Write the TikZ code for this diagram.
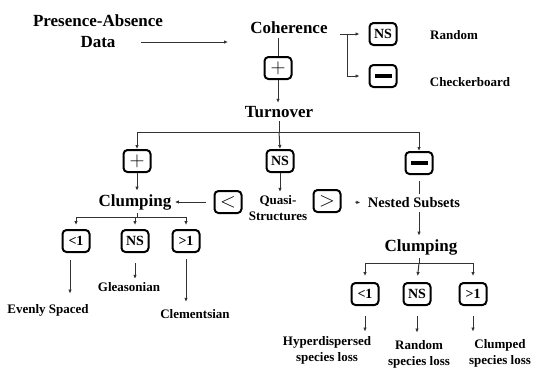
\documentclass[tikz,border=0pt]{standalone}
\usepackage{fontspec}
\setmainfont{Liberation Serif}
\usepackage{tikz}
\usetikzlibrary{arrows.meta,positioning,calc}
\definecolor{flLine}{HTML}{333333}
\tikzset{
    % boxes with a test result
    resbox/.style={draw=black, line width=2pt, rounded corners=4pt, minimum width=27pt, minimum height=22pt, inner sep=0pt, font=\fontsize{14}{14}\bfseries\selectfont},
    % text labels
    bigtxt/.style={font=\fontsize{17}{21}\bfseries\selectfont, align=center},
    midtxt/.style={font=\fontsize{14.5}{17}\bfseries\selectfont, align=center},
    smalltxt/.style={font=\fontsize{13}{16}\bfseries\selectfont, align=center},
    % connectors
    link/.style={line width=1pt, flLine},
    arrow/.style={-{Latex[length=4pt,width=3.5pt]}, line width=1pt, flLine}
}
\newcommand{\minusbar}{\rule{17pt}{3.5pt}}
\newcommand{\bigsym}[1]{{\fontsize{21}{21}\selectfont$#1$}}

\begin{document}
\begin{tikzpicture}[x=1pt,y=-1pt]
    \fill[white] (0,0) rectangle (537,368);
    \useasboundingbox (0,0) rectangle (537,368);

    % Coherence
    \node[bigtxt] (pres) at (98,21) {Presence-Absence};
    \node[bigtxt] (data) at (98,42) {Data};
    \node[bigtxt] (coh) at (289,28) {Coherence};
    \coordinate (cohin) at (228,42);
    \node[resbox] (nsA) at (383,34) {NS};
    \node[resbox] (minA) at (383,76) {\minusbar};
    \node[smalltxt] (rand) at (454,35) {Random};
    \node[smalltxt] (check) at (470,82) {Checkerboard};
    \node[resbox] (plusA) at (278,68) {\bigsym{+}};

    % Turnover
    \node[bigtxt] (turn) at (279,112) {Turnover};
    \coordinate (bar1) at (279,132);
    \node[resbox] (plusB) at (137,161) {\bigsym{+}};
    \node[resbox] (nsB) at (280,161) {NS};
    \node[resbox] (minB) at (419,163) {\minusbar};
    \node[smalltxt] (quasi) at (278,208) {Quasi-\\Structures};
    \node[resbox] (lt) at (228,202) {\bigsym{<}};
    \node[resbox] (gt) at (327,201) {\bigsym{>}};
    \node[bigtxt] (clumpL) at (135,202) {Clumping};
    \node[midtxt] (nested) at (414,203) {Nested Subsets};

    % Clumping (left)
    \coordinate (bar2) at (137,217);
    \node[resbox] (lt1L) at (76,241) {<1};
    \node[resbox] (nsL) at (135,241) {NS};
    \node[resbox] (gt1L) at (186,241) {>1};
    \node[smalltxt] (even) at (48,310) {Evenly Spaced};
    \node[smalltxt] (gleas) at (129,287) {Gleasonian};
    \node[smalltxt] (clem) at (195,314) {Clementsian};

    % Clumping (right)
    \node[bigtxt] (clumpR) at (421,247) {Clumping};
    \coordinate (bar3) at (419,263);
    \node[resbox] (lt1R) at (365,294) {<1};
    \node[resbox] (nsR) at (417,294) {NS};
    \node[resbox] (gt1R) at (473,294) {>1};
    \node[smalltxt] (hyper) at (327,350) {Hyperdispersed\\species loss};
    \node[smalltxt] (randR) at (419,354) {Random\\species loss};
    \node[smalltxt] (clmpd) at (500,353) {Clumped\\species loss};

    % Arrows
    \draw[arrow] ([xshift=22pt]data.east) -- (cohin);
    \draw[arrow, shorten >=9pt] ([xshift=9pt]coh.east |- nsA) -- (nsA.west);
    \draw[arrow, shorten >=9pt] ([xshift=16pt]coh.east |- nsA) |- (minA.west);
    \draw[link] (plusA |- coh.south) -- (plusA.north);
    \draw[arrow] (plusA.south) -- (plusA |- turn.north);
    \draw[link] (turn.south) -- (bar1);
    \draw[arrow] (bar1) -| (plusB.north);
    \draw[arrow] (bar1) -- (nsB.north);
    \draw[arrow] (bar1) -| (minB.north);
    \draw[arrow] (nsB.south) -- (nsB |- quasi.north);
    \draw[arrow] (plusB.south) -- (plusB |- clumpL.north);
    \draw[arrow, shorten <=8pt] (lt.west) -- (clumpL.east);
    \draw[arrow, shorten <=14pt, shorten >=4pt] (gt.east) -- (nested.west);
    \draw[link, shorten <=6pt] (minB.south) -- (minB.south |- nested.north);
    \draw[arrow] (minB |- nested.south) -- (minB |- clumpR.north);
    \draw[link] (clumpL.south -| bar2) -- (bar2);
    \draw[arrow, shorten >=4pt] (bar2) -| (lt1L.north);
    \draw[arrow, shorten >=4pt] (bar2) -| (nsL.north);
    \draw[arrow, shorten >=4pt] (bar2) -| (gt1L.north);
    \draw[arrow, shorten <=7pt, shorten >=7pt] ([xshift=-6pt]lt1L.south) -- ([xshift=-6pt]lt1L.south |- even.north);
    \draw[arrow, shorten <=10pt] (nsL.south) -- (nsL.south |- gleas.north);
    \draw[arrow, shorten <=6pt, shorten >=4pt] (gt1L.south) -- (gt1L.south |- clem.north);
    \draw[link] (clumpR.south -| bar3) -- (bar3);
    \draw[arrow, shorten >=6pt] (bar3) -| (lt1R.north);
    \draw[arrow, shorten >=6pt] (bar3) -- (nsR.north);
    \draw[arrow, shorten >=6pt] (bar3) -| (gt1R.north);
    \draw[arrow, shorten <=10pt, shorten >=1pt] (lt1R.south) -- (lt1R.south |- hyper.north);
    \draw[arrow, shorten <=10pt, shorten >=4pt] (nsR.south) -- (nsR.south |- randR.north);
    \draw[arrow, shorten <=10pt, shorten >=4pt] (gt1R.south) -- (gt1R.south |- clmpd.north);
\end{tikzpicture}
\end{document}
